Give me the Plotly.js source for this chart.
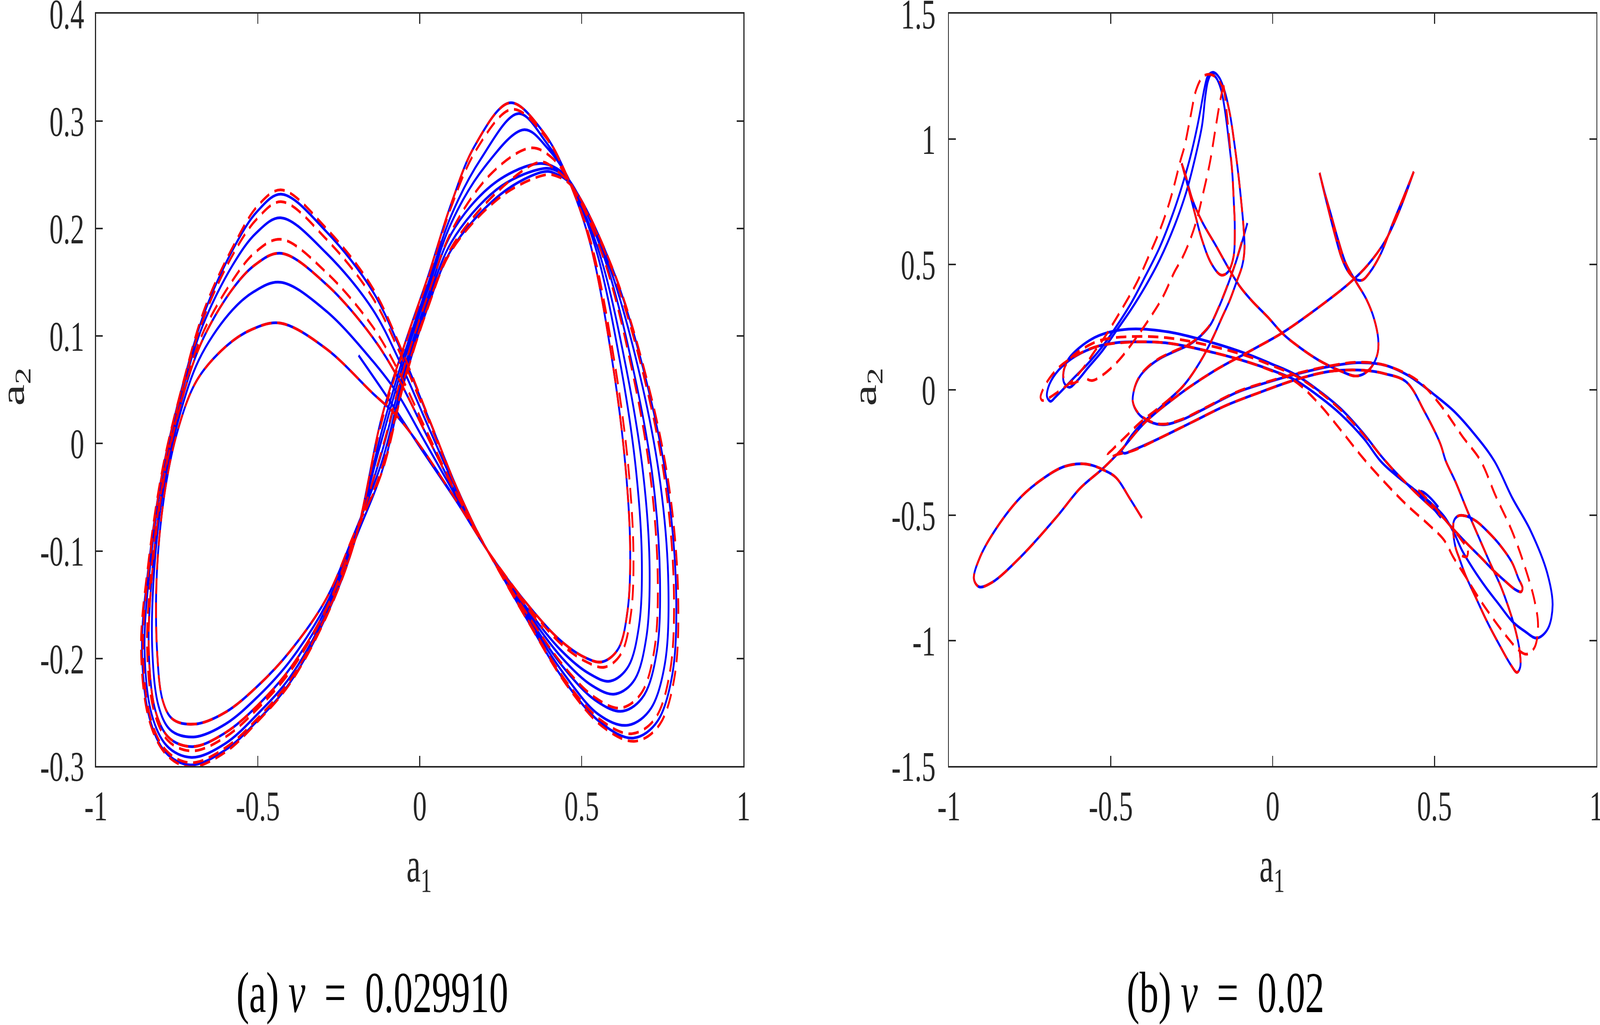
<!DOCTYPE html>
<html><head><meta charset="utf-8">
<script src="https://cdn.plot.ly/plotly-3.0.1.min.js"></script>
<style>html,body{margin:0;padding:0;background:#fff;overflow:hidden;}#chart{width:6200px;height:2624px;transform-origin:0 0;}</style>
</head><body><div id="chart"></div>
<script>
// ---------- Panel (a): nu = 0.029910 ----------
const aStartBlue = [[-0.189,0.082],[-0.10,0.043],[0.0,-0.003],[0.116,-0.055],[0.21,-0.10]];
const aStartRed = [[0.21,-0.10]];
// right-lobe passages
const aR_f0 = [[0.32,-0.145],[0.43,-0.182],[0.51,-0.199],[0.565,-0.203],[0.615,-0.19],[0.642,-0.155],[0.65,-0.10],[0.635,-0.02],[0.595,0.076],[0.524,0.189],[0.453,0.25],[0.381,0.29],[0.278,0.317],[0.168,0.276],[0.097,0.223],[0.025,0.155],[-0.046,0.093],[-0.117,0.025]];
const aR_f007 = [[0.321,-0.146],[0.431,-0.185],[0.514,-0.203],[0.572,-0.208],[0.623,-0.195],[0.652,-0.159],[0.66,-0.103],[0.644,-0.021],[0.602,0.075],[0.529,0.187],[0.454,0.249],[0.384,0.287],[0.285,0.311],[0.174,0.273],[0.097,0.22],[0.025,0.153],[-0.046,0.091],[-0.117,0.021]];
const aR_f025 = [[0.323,-0.15],[0.435,-0.192],[0.523,-0.214],[0.589,-0.221],[0.645,-0.207],[0.677,-0.17],[0.686,-0.11],[0.668,-0.025],[0.621,0.072],[0.542,0.183],[0.457,0.248],[0.391,0.28],[0.305,0.307],[0.189,0.265],[0.097,0.212],[0.025,0.148],[-0.046,0.085],[-0.117,0.012]];
const aR_f042 = [[0.324,-0.153],[0.438,-0.199],[0.531,-0.225],[0.605,-0.233],[0.665,-0.219],[0.70,-0.18],[0.71,-0.117],[0.69,-0.028],[0.639,0.068],[0.554,0.178],[0.46,0.246],[0.397,0.274],[0.323,0.292],[0.202,0.258],[0.097,0.205],[0.025,0.143],[-0.046,0.079],[-0.117,0.004]];
const aR_f060 = [[0.326,-0.156],[0.442,-0.206],[0.54,-0.236],[0.622,-0.246],[0.687,-0.231],[0.725,-0.191],[0.735,-0.124],[0.713,-0.032],[0.658,0.065],[0.567,0.173],[0.463,0.244],[0.404,0.267],[0.342,0.275],[0.217,0.25],[0.097,0.197],[0.025,0.138],[-0.046,0.073],[-0.117,-0.006]];
const aR_f065 = [[0.327,-0.157],[0.443,-0.208],[0.543,-0.239],[0.627,-0.249],[0.693,-0.234],[0.732,-0.194],[0.742,-0.126],[0.72,-0.033],[0.663,0.064],[0.571,0.172],[0.464,0.244],[0.41,0.258],[0.355,0.26],[0.221,0.24],[0.097,0.195],[0.025,0.137],[-0.046,0.072],[-0.117,-0.008]];
const aR_f083 = [[0.328,-0.16],[0.447,-0.215],[0.552,-0.252],[0.644,-0.262],[0.715,-0.246],[0.757,-0.205],[0.768,-0.133],[0.743,-0.037],[0.682,0.061],[0.583,0.167],[0.467,0.242],[0.413,0.255],[0.367,0.255],[0.236,0.236],[0.097,0.187],[0.025,0.132],[-0.046,0.066],[-0.117,-0.017]];
const aR_f095 = [[0.33,-0.162],[0.449,-0.22],[0.558,-0.257],[0.655,-0.27],[0.729,-0.255],[0.773,-0.212],[0.785,-0.138],[0.759,-0.039],[0.695,0.059],[0.591,0.164],[0.469,0.24],[0.418,0.255],[0.375,0.262],[0.246,0.236],[0.097,0.182],[0.025,0.128],[-0.046,0.062],[-0.117,-0.023]];
const aR_f1 = [[0.33,-0.163],[0.45,-0.222],[0.56,-0.26],[0.66,-0.274],[0.735,-0.258],[0.78,-0.215],[0.792,-0.14],[0.765,-0.04],[0.70,0.058],[0.595,0.163],[0.47,0.24],[0.42,0.251],[0.385,0.253],[0.25,0.232],[0.097,0.18],[0.025,0.127],[-0.046,0.06],[-0.117,-0.026]];
const aR_f1red = [[0.331,-0.164],[0.452,-0.224],[0.563,-0.263],[0.665,-0.277],[0.742,-0.261],[0.787,-0.217],[0.798,-0.14],[0.77,-0.04],[0.703,0.058],[0.597,0.162],[0.471,0.239],[0.421,0.249],[0.388,0.25],[0.252,0.23],[0.097,0.179],[0.025,0.126],[-0.046,0.059],[-0.117,-0.027]];
// left-lobe passages
const aL_g0 = [[-0.2,-0.082],[-0.288,-0.144],[-0.40,-0.193],[-0.502,-0.226],[-0.60,-0.25],[-0.694,-0.261],[-0.765,-0.256],[-0.794,-0.239],[-0.811,-0.195],[-0.812,-0.12],[-0.786,-0.042],[-0.745,0.015],[-0.69,0.058],[-0.60,0.09],[-0.52,0.106],[-0.43,0.112],[-0.288,0.088],[-0.146,0.047],[-0.075,0.027],[-0.004,0.0],[0.1,-0.047],[0.21,-0.10]];
const aL_g032 = [[-0.2,-0.085],[-0.288,-0.149],[-0.40,-0.202],[-0.502,-0.236],[-0.60,-0.261],[-0.698,-0.273],[-0.772,-0.266],[-0.807,-0.244],[-0.826,-0.193],[-0.82,-0.117],[-0.789,-0.037],[-0.74,0.028],[-0.682,0.078],[-0.591,0.12],[-0.514,0.141],[-0.429,0.15],[-0.288,0.123],[-0.146,0.077],[-0.07,0.047],[0.008,0.006],[0.106,-0.046],[0.21,-0.10]];
const aL_g055 = [[-0.2,-0.086],[-0.288,-0.153],[-0.40,-0.209],[-0.502,-0.244],[-0.60,-0.269],[-0.702,-0.282],[-0.777,-0.273],[-0.817,-0.248],[-0.837,-0.192],[-0.825,-0.115],[-0.79,-0.033],[-0.737,0.038],[-0.676,0.093],[-0.585,0.141],[-0.51,0.166],[-0.428,0.177],[-0.288,0.148],[-0.146,0.099],[-0.067,0.061],[0.016,0.011],[0.111,-0.046],[0.21,-0.10]];
const aL_g065 = [[-0.2,-0.087],[-0.288,-0.154],[-0.40,-0.212],[-0.502,-0.247],[-0.60,-0.273],[-0.703,-0.286],[-0.779,-0.276],[-0.821,-0.249],[-0.842,-0.192],[-0.828,-0.114],[-0.791,-0.031],[-0.735,0.042],[-0.674,0.1],[-0.582,0.15],[-0.508,0.178],[-0.428,0.19],[-0.288,0.159],[-0.146,0.109],[-0.065,0.067],[0.019,0.013],[0.113,-0.046],[0.21,-0.10]];
const aL_g082 = [[-0.2,-0.089],[-0.288,-0.157],[-0.40,-0.217],[-0.502,-0.252],[-0.60,-0.279],[-0.705,-0.292],[-0.782,-0.281],[-0.828,-0.252],[-0.85,-0.191],[-0.832,-0.112],[-0.793,-0.028],[-0.733,0.049],[-0.67,0.11],[-0.578,0.166],[-0.505,0.196],[-0.428,0.21],[-0.288,0.177],[-0.146,0.125],[-0.063,0.077],[0.026,0.016],[0.116,-0.045],[0.21,-0.10]];
const aL_g094 = [[-0.2,-0.09],[-0.288,-0.159],[-0.40,-0.22],[-0.502,-0.256],[-0.60,-0.283],[-0.707,-0.297],[-0.785,-0.285],[-0.833,-0.254],[-0.855,-0.19],[-0.835,-0.111],[-0.794,-0.026],[-0.731,0.054],[-0.666,0.118],[-0.575,0.177],[-0.503,0.209],[-0.427,0.225],[-0.288,0.19],[-0.146,0.136],[-0.061,0.084],[0.03,0.019],[0.119,-0.045],[0.21,-0.10]];
const aL_g1 = [[-0.2,-0.09],[-0.288,-0.16],[-0.40,-0.222],[-0.502,-0.258],[-0.60,-0.285],[-0.708,-0.299],[-0.786,-0.287],[-0.835,-0.255],[-0.858,-0.19],[-0.836,-0.11],[-0.794,-0.025],[-0.73,0.057],[-0.665,0.122],[-0.573,0.183],[-0.502,0.216],[-0.427,0.232],[-0.288,0.197],[-0.146,0.142],[-0.06,0.088],[0.032,0.02],[0.12,-0.045],[0.21,-0.10]];
const aL_g103 = [[-0.2,-0.09],[-0.288,-0.161],[-0.40,-0.223],[-0.502,-0.259],[-0.60,-0.287],[-0.71,-0.301],[-0.787,-0.288],[-0.837,-0.256],[-0.861,-0.19],[-0.838,-0.11],[-0.795,-0.024],[-0.729,0.059],[-0.664,0.126],[-0.572,0.186],[-0.501,0.221],[-0.427,0.236],[-0.288,0.2],[-0.146,0.145],[-0.06,0.09],[0.033,0.02],[0.12,-0.045],[0.21,-0.10]];
const aEndBlue = [[-0.2,-0.09],[-0.26,-0.14]];
const aEndRed = [[0.30,-0.14],[0.38,-0.172]];

// ---------- Panel (b): nu = 0.02 ----------
const bLowerLeftAndDiagonal = [[-0.404,-0.511],[-0.44,-0.436],[-0.484,-0.35],[-0.525,-0.318],[-0.558,-0.301],[-0.591,-0.295],[-0.646,-0.307],[-0.705,-0.35],[-0.779,-0.429],[-0.853,-0.551],[-0.904,-0.667],[-0.923,-0.753],[-0.908,-0.785],[-0.867,-0.768],[-0.779,-0.667],[-0.668,-0.508],[-0.595,-0.393],[-0.523,-0.312],[-0.466,-0.237],[-0.395,-0.131],[-0.288,-0.018],[-0.181,0.075],[-0.065,0.158],[0.031,0.228],[0.141,0.328],[0.237,0.425],[0.292,0.495],[0.347,0.592],[0.388,0.703],[0.436,0.870]];
const bUpperU = [[0.436,0.870],[0.405,0.77],[0.37,0.66],[0.335,0.545],[0.30,0.468],[0.276,0.437],[0.252,0.445],[0.23,0.478],[0.212,0.53],[0.193,0.615],[0.173,0.715],[0.155,0.81],[0.145,0.865]];
const bSCurve = [[0.145,0.865],[0.16,0.79],[0.18,0.70],[0.202,0.60],[0.226,0.505],[0.258,0.43],[0.29,0.36],[0.313,0.285],[0.326,0.205],[0.325,0.15],[0.31,0.10],[0.285,0.066],[0.255,0.055],[0.21,0.075],[0.141,0.119],[0.069,0.183],[0.031,0.224],[-0.015,0.29],[-0.065,0.356],[-0.10,0.41],[-0.13,0.471],[-0.174,0.572],[-0.219,0.673],[-0.248,0.759],[-0.27,0.86],[-0.281,0.903]];
const bMainBlue = [[-0.281,0.903],[-0.263,0.817],[-0.24,0.702],[-0.219,0.601],[-0.19,0.505],[-0.16,0.458],[-0.138,0.470],[-0.121,0.53],[-0.117,0.65],[-0.12,0.75],[-0.125,0.87],[-0.136,1.0],[-0.148,1.12],[-0.16,1.2],[-0.175,1.245],[-0.19,1.258],[-0.2,1.23],[-0.208,1.17],[-0.218,1.055],[-0.24,0.922],[-0.267,0.788],[-0.303,0.655],[-0.348,0.521],[-0.393,0.413],[-0.437,0.321],[-0.482,0.237],[-0.527,0.154],[-0.571,0.087],[-0.603,0.037],[-0.628,0.01],[-0.645,0.03],[-0.646,0.07],[-0.633,0.118],[-0.594,0.171],[-0.537,0.216],[-0.444,0.242],[-0.323,0.231],[-0.181,0.186],[-0.075,0.141],[-0.003,0.103],[0.068,0.062],[0.139,0.0],[0.21,-0.075],[0.282,-0.176],[0.334,-0.262],[0.372,-0.318],[0.411,-0.37],[0.45,-0.42],[0.488,-0.465],[0.527,-0.51],[0.565,-0.565],[0.604,-0.618],[0.643,-0.668],[0.681,-0.719],[0.72,-0.765],[0.75,-0.797],[0.768,-0.805],[0.772,-0.79],[0.759,-0.751],[0.74,-0.69],[0.701,-0.617],[0.662,-0.562],[0.628,-0.523],[0.596,-0.503],[0.573,-0.503],[0.56,-0.523],[0.558,-0.562],[0.565,-0.628],[0.577,-0.673],[0.596,-0.74],[0.624,-0.818],[0.662,-0.923],[0.701,-1.018],[0.735,-1.095],[0.755,-1.127],[0.765,-1.105],[0.764,-1.05],[0.756,-0.99],[0.74,-0.912],[0.705,-0.784],[0.675,-0.70],[0.643,-0.606],[0.604,-0.49],[0.565,-0.367],[0.535,-0.284],[0.518,-0.215],[0.47,-0.089],[0.415,0.029],[0.347,0.064],[0.278,0.078],[0.175,0.073],[0.068,0.039],[-0.039,-0.010],[-0.145,-0.063],[-0.252,-0.131],[-0.359,-0.199],[-0.43,-0.24],[-0.458,-0.253],[-0.466,-0.245],[-0.455,-0.22],[-0.437,-0.184],[-0.395,-0.124],[-0.355,-0.08],[-0.318,-0.036],[-0.285,0.003],[-0.258,0.045],[-0.232,0.095],[-0.207,0.15],[-0.182,0.215],[-0.156,0.29],[-0.133,0.355],[-0.113,0.425],[-0.094,0.495],[-0.087,0.56],[-0.09,0.65],[-0.097,0.75],[-0.106,0.86],[-0.118,0.98],[-0.132,1.1],[-0.148,1.19],[-0.165,1.245],[-0.183,1.266],[-0.2,1.252],[-0.211,1.2],[-0.214,1.18],[-0.232,1.055],[-0.254,0.93],[-0.274,0.838],[-0.303,0.721],[-0.348,0.571],[-0.393,0.454],[-0.437,0.346],[-0.482,0.254],[-0.527,0.171],[-0.571,0.104],[-0.616,0.045],[-0.645,0.005],[-0.672,-0.03],[-0.686,-0.046],[-0.697,-0.028],[-0.693,0.01],[-0.67,0.065],[-0.62,0.125],[-0.549,0.17],[-0.482,0.188],[-0.444,0.191],[-0.323,0.186],[-0.181,0.148],[-0.075,0.11],[-0.003,0.078],[0.068,0.04],[0.139,-0.022],[0.21,-0.097],[0.282,-0.195],[0.334,-0.285],[0.385,-0.345],[0.435,-0.395],[0.485,-0.447],[0.53,-0.505],[0.562,-0.575],[0.585,-0.64],[0.62,-0.715],[0.66,-0.79],[0.70,-0.857],[0.74,-0.923],[0.778,-0.962],[0.817,-0.99],[0.851,-0.951],[0.865,-0.857],[0.848,-0.729],[0.797,-0.562],[0.74,-0.43],[0.685,-0.284],[0.621,-0.173],[0.56,-0.085],[0.5,-0.02],[0.45,0.03],[0.415,0.06],[0.347,0.098],[0.264,0.108],[0.175,0.093],[0.068,0.061],[-0.003,0.035],[-0.11,-0.01],[-0.21,-0.075],[-0.281,-0.12],[-0.338,-0.139],[-0.38,-0.127],[-0.416,-0.093],[-0.432,-0.048],[-0.428,0.0],[-0.412,0.05],[-0.385,0.09],[-0.348,0.125],[-0.303,0.153],[-0.258,0.18],[-0.22,0.218],[-0.191,0.262],[-0.169,0.321],[-0.15,0.38],[-0.133,0.438],[-0.115,0.504],[-0.093,0.596],[-0.078,0.665]];
const bHairpinBlue = [[0.52,-0.51],[0.49,-0.462],[0.466,-0.42],[0.457,-0.405],[0.468,-0.41],[0.49,-0.435],[0.512,-0.468]];
const bRedUpToSpike = [[-0.281,0.903],[-0.263,0.817],[-0.24,0.702],[-0.219,0.601],[-0.19,0.505],[-0.16,0.458],[-0.138,0.470],[-0.121,0.53],[-0.117,0.65],[-0.12,0.75],[-0.125,0.87],[-0.134,1.0],[-0.143,1.12],[-0.150,1.2],[-0.152,1.215]];
const bRedSteep = [[-0.152,1.215],[-0.164,1.139],[-0.178,1.03],[-0.194,0.905],[-0.214,0.788],[-0.236,0.671],[-0.258,0.588],[-0.281,0.521],[-0.303,0.471],[-0.339,0.371],[-0.379,0.287],[-0.428,0.196],[-0.473,0.121],[-0.522,0.062],[-0.558,0.037],[-0.576,0.048],[-0.578,0.07]];
const bRedMain = [[-0.60,0.035],[-0.625,0.025],[-0.645,0.045],[-0.645,0.08],[-0.625,0.125],[-0.585,0.165],[-0.53,0.198],[-0.444,0.212],[-0.323,0.207],[-0.181,0.172],[-0.075,0.133],[-0.003,0.097],[0.068,0.058],[0.139,-0.003],[0.21,-0.08],[0.282,-0.18],[0.334,-0.262],[0.372,-0.318],[0.411,-0.37],[0.45,-0.42],[0.488,-0.465],[0.527,-0.51],[0.565,-0.565],[0.604,-0.618],[0.643,-0.668],[0.681,-0.719],[0.72,-0.765],[0.75,-0.797],[0.768,-0.805],[0.772,-0.79],[0.759,-0.751],[0.74,-0.69],[0.701,-0.617],[0.662,-0.562],[0.628,-0.523],[0.596,-0.503],[0.573,-0.503],[0.56,-0.523],[0.558,-0.562],[0.565,-0.628],[0.577,-0.673],[0.596,-0.74],[0.624,-0.818],[0.662,-0.923],[0.701,-1.018],[0.735,-1.095],[0.755,-1.127],[0.765,-1.105],[0.764,-1.05],[0.756,-0.99],[0.74,-0.912],[0.705,-0.784],[0.675,-0.70],[0.643,-0.606],[0.604,-0.49],[0.565,-0.367],[0.535,-0.284],[0.518,-0.215],[0.47,-0.089],[0.415,0.029],[0.347,0.064],[0.278,0.078],[0.175,0.073],[0.068,0.039],[-0.039,-0.010],[-0.145,-0.063],[-0.252,-0.131],[-0.359,-0.199],[-0.43,-0.242],[-0.48,-0.258],[-0.503,-0.268],[-0.51,-0.26],[-0.494,-0.237],[-0.452,-0.184],[-0.41,-0.131],[-0.36,-0.08],[-0.318,-0.036],[-0.285,0.003],[-0.258,0.045],[-0.232,0.095],[-0.207,0.15],[-0.182,0.215],[-0.156,0.29],[-0.133,0.355],[-0.113,0.425],[-0.094,0.495],[-0.087,0.56],[-0.09,0.65],[-0.097,0.75],[-0.106,0.86],[-0.118,0.98],[-0.132,1.1],[-0.15,1.19],[-0.17,1.24],[-0.195,1.258],[-0.216,1.248],[-0.236,1.197],[-0.254,1.088],[-0.272,0.972],[-0.285,0.913],[-0.303,0.821],[-0.321,0.738],[-0.348,0.638],[-0.384,0.529],[-0.419,0.429],[-0.455,0.346],[-0.486,0.279],[-0.518,0.212],[-0.554,0.146],[-0.585,0.087],[-0.625,0.029],[-0.665,-0.01],[-0.695,-0.035],[-0.712,-0.042],[-0.717,-0.03],[-0.71,0.0],[-0.69,0.045],[-0.66,0.09],[-0.61,0.135],[-0.545,0.172],[-0.444,0.19],[-0.323,0.186],[-0.181,0.148],[-0.075,0.11],[-0.003,0.076],[0.068,0.035],[0.139,-0.05],[0.21,-0.16],[0.278,-0.27],[0.347,-0.37],[0.415,-0.46],[0.484,-0.54],[0.53,-0.60],[0.558,-0.667],[0.596,-0.745],[0.639,-0.834],[0.674,-0.9],[0.72,-0.979],[0.762,-1.04],[0.786,-1.054],[0.81,-1.025],[0.82,-0.94],[0.809,-0.84],[0.778,-0.701],[0.739,-0.562],[0.689,-0.423],[0.643,-0.284],[0.587,-0.187],[0.518,-0.06],[0.45,0.035],[0.347,0.098],[0.264,0.11],[0.175,0.095],[0.068,0.063],[-0.003,0.037],[-0.11,-0.008],[-0.21,-0.073],[-0.281,-0.118],[-0.338,-0.137],[-0.38,-0.125],[-0.416,-0.091],[-0.432,-0.046],[-0.428,0.002],[-0.412,0.052],[-0.385,0.092],[-0.348,0.127],[-0.303,0.155],[-0.258,0.182],[-0.22,0.22],[-0.191,0.264],[-0.169,0.323],[-0.15,0.382],[-0.133,0.44],[-0.115,0.506],[-0.09,0.615]];
const bHookRed = [[0.45,-0.40],[0.50,-0.467],[0.539,-0.528],[0.581,-0.595],[0.603,-0.64],[0.6,-0.665],[0.585,-0.662]];

// tick labels
const aXTicks = [-1,-0.5,0,0.5,1], aXText = ['-1','-0.5','0','0.5','1'];
const aYTicks = [-0.3,-0.2,-0.1,0,0.1,0.2,0.3,0.4], aYText = ['-0.3','-0.2','-0.1','0','0.1','0.2','0.3','0.4'];
const bXTicks = [-1,-0.5,0,0.5,1], bXText = ['-1','-0.5','0','0.5','1'];
const bYTicks = [-1.5,-1,-0.5,0,0.5,1,1.5], bYText = ['-1.5','-1','-0.5','0','0.5','1','1.5'];

// ---------- build traces ----------
function chain(parts){const o=[];parts.forEach(p=>p.forEach(q=>o.push(q)));return o;}
function segs(list){const x=[],y=[];list.forEach((s,i)=>{if(i>0){x.push(null);y.push(null);}s.forEach(p=>{x.push(p[0]);y.push(p[1]);});});return {x,y};}

const aBlue = segs([chain([aStartBlue,aR_f0,aL_g1,aR_f025,aL_g082,aR_f042,aL_g055,aR_f065,aL_g032,aR_f083,aL_g0,aR_f1,aEndBlue])]);
const aRed = segs([chain([aStartRed,aR_f0,aL_g103,aR_f007,aL_g094,aR_f060,aL_g065,aR_f095,aL_g055,aR_f1red,aL_g0,aEndRed])]);
const bBlue = segs([bLowerLeftAndDiagonal,bUpperU,bSCurve,bMainBlue,bHairpinBlue]);
const bRed = segs([bLowerLeftAndDiagonal,bUpperU,bSCurve,bRedUpToSpike,bRedSteep,bRedMain,bHookRed]);

const BLUE='#0000FF', RED='#FF0000', LW=7, DASH='40px,22px';
const traces = [
 {x:aBlue.x,y:aBlue.y,xaxis:'x',yaxis:'y',mode:'lines',line:{color:BLUE,width:LW,shape:'spline',smoothing:1},connectgaps:false,hoverinfo:'skip'},
 {x:aRed.x,y:aRed.y,xaxis:'x',yaxis:'y',mode:'lines',line:{color:RED,width:LW,dash:DASH,shape:'spline',smoothing:1},connectgaps:false,hoverinfo:'skip'},
 {x:bBlue.x,y:bBlue.y,xaxis:'x2',yaxis:'y2',mode:'lines',line:{color:BLUE,width:LW,shape:'spline',smoothing:1},connectgaps:false,hoverinfo:'skip'},
 {x:bRed.x,y:bRed.y,xaxis:'x2',yaxis:'y2',mode:'lines',line:{color:RED,width:LW,dash:DASH,shape:'spline',smoothing:1},connectgaps:false,hoverinfo:'skip'}
];

const FONT='Liberation Serif, Times New Roman, serif';
const AX='#262626';
function axis(domain, range, vals, text, standoff, anchor){
  return {domain:domain, range:range, tickmode:'array', tickvals:vals, ticktext:text,
    ticks:'inside', ticklen:26, tickwidth:4, tickcolor:AX, showline:true, mirror:'ticks',
    linecolor:AX, linewidth:4, showgrid:false, zeroline:false, fixedrange:true,
    ticklabeloverflow:'allow',
    tickfont:{family:FONT,size:108,color:AX}, ticklabelstandoff:standoff, anchor:anchor};
}
const layout = {
  width:6200, height:2624, margin:{l:0,r:0,t:0,b:0}, paper_bgcolor:'#fff', plot_bgcolor:'#fff',
  showlegend:false,
  xaxis: axis([0.0600,0.4647],[-1,1],aXTicks,aXText,5,'y'),
  yaxis: axis([0.2527,0.9867],[-0.3,0.4],aYTicks,aYText,20,'x'),
  xaxis2: axis([0.5931,0.9977],[-1,1],bXTicks,bXText,5,'y2'),
  yaxis2: axis([0.2527,0.9867],[-1.5,1.5],bYTicks,bYText,26,'x2'),
  annotations:[
    {text:'a<sub>1</sub>',xref:'paper',yref:'paper',x:0.2620,y:0.1524,xanchor:'center',yanchor:'middle',showarrow:false,font:{family:FONT,size:124,color:AX}},
    {text:'a<sub>1</sub>',xref:'paper',yref:'paper',x:0.7950,y:0.1524,xanchor:'center',yanchor:'middle',showarrow:false,font:{family:FONT,size:124,color:AX}},
    {text:'a<sub>2</sub>',xref:'paper',yref:'paper',x:0.0095,y:0.6227,xanchor:'center',yanchor:'middle',textangle:-90,showarrow:false,font:{family:FONT,size:124,color:AX}},
    {text:'a<sub>2</sub>',xref:'paper',yref:'paper',x:0.5420,y:0.6227,xanchor:'center',yanchor:'middle',textangle:-90,showarrow:false,font:{family:FONT,size:124,color:AX}},
    {text:'(a) <i>ν</i>  =  0.029910',xref:'paper',yref:'paper',x:0.2327,y:0.0316,xanchor:'center',yanchor:'middle',showarrow:false,font:{family:FONT,size:148,color:'#000'}},
    {text:'(b) <i>ν</i>  =  0.02',xref:'paper',yref:'paper',x:0.7660,y:0.0316,xanchor:'center',yanchor:'middle',showarrow:false,font:{family:FONT,size:148,color:'#000'}}
  ]
};
// fit the 6200x2624 figure into whatever viewport the browser actually has
const el = document.getElementById('chart');
const sx = (window.innerWidth||6200)/6200, sy = (window.innerHeight||2624)/2624;
if (Math.abs(sx-1)>1e-3 || Math.abs(sy-1)>1e-3) el.style.transform = 'scale('+sx+','+sy+')';
Plotly.newPlot('chart', traces, layout, {staticPlot:true, displayModeBar:false});
</script>
</body></html>
